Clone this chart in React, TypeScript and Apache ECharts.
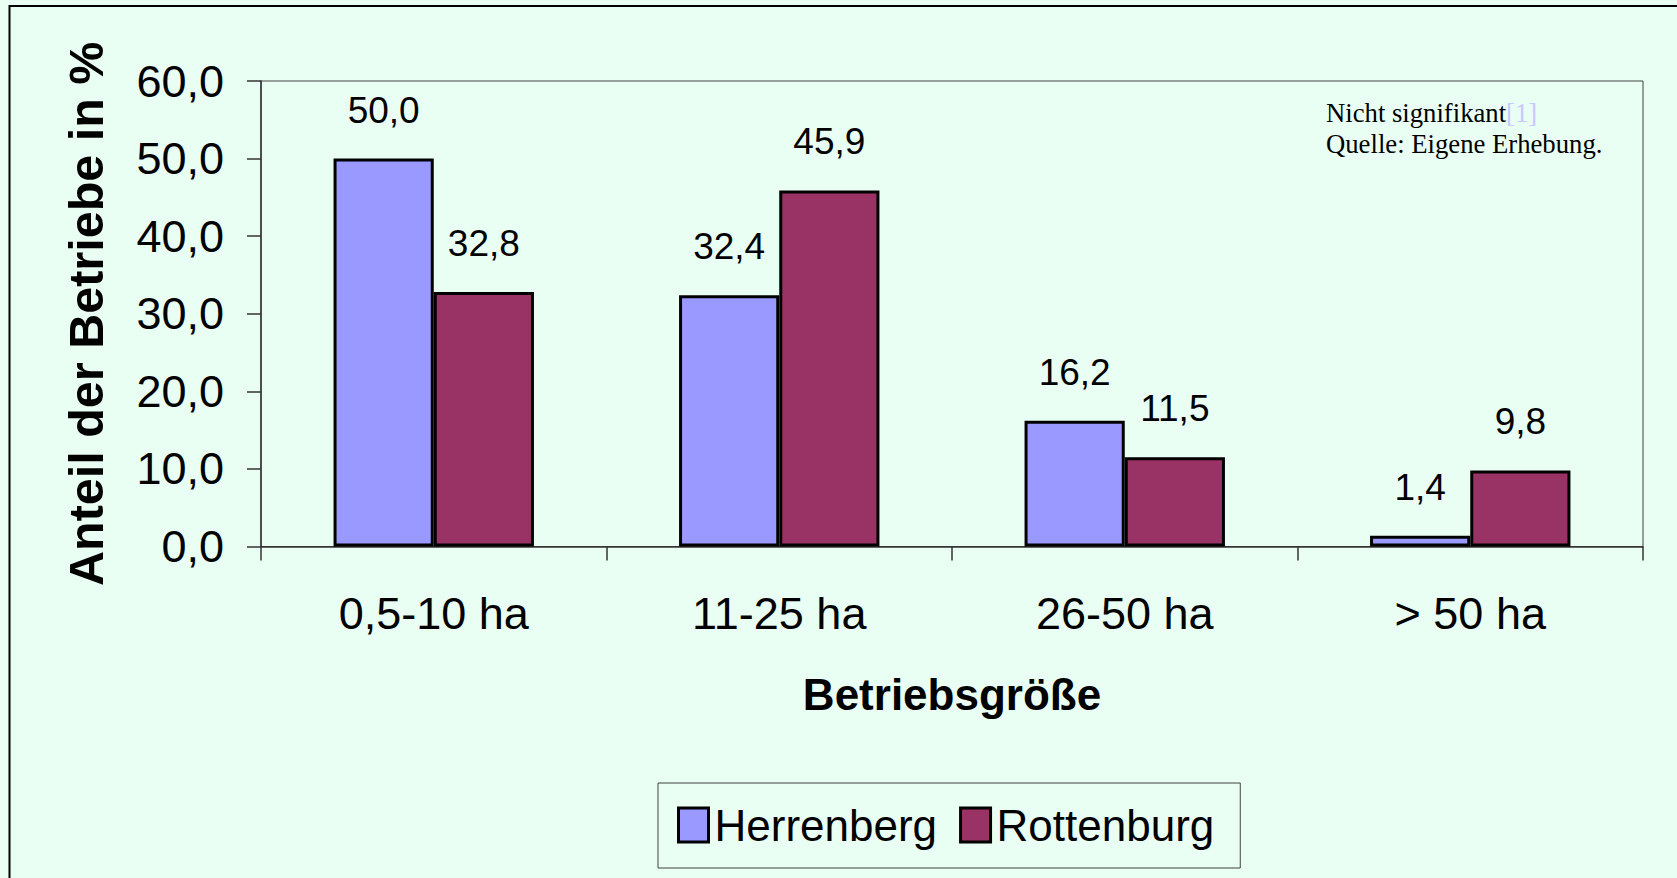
import React, { useEffect, useRef } from 'react';
import * as echarts from 'echarts';

const categories = ['0,5-10 ha', '11-25 ha', '26-50 ha', '> 50 ha'];
const herrenberg = [50.0, 32.4, 16.2, 1.4];
const rottenburg = [32.8, 45.9, 11.5, 9.8];
const seriesNames = ['Herrenberg', 'Rottenburg'];
const seriesColors = ['#9999FF', '#993366'];
const yMin = 0;
const yMax = 60;
const yInterval = 10;
const xTitle = 'Betriebsgröße';
const yTitle = 'Anteil der Betriebe in %';
const noteLine1 = 'Nicht signifikant';
const noteRef = '[1]';
const noteLine2 = 'Quelle: Eigene Erhebung.';

const fmt = (v: number) => v.toFixed(1).replace('.', ',');
const SANS = '"Liberation Sans", Arial, sans-serif';
const SERIF = '"Liberation Serif", "Times New Roman", serif';
const BG = '#EAFFF3';

export default function App() {
  const ref = useRef<HTMLDivElement>(null);
  useEffect(() => {
    if (!ref.current) return;
    const chart = echarts.init(ref.current, undefined, { renderer: 'svg' });
    const mkSeries = (name: string, data: number[], color: string) => ({
      name,
      type: 'bar',
      data,
      barGap: '0%',
      barCategoryGap: '42%',
      itemStyle: { color, borderColor: '#000', borderWidth: 3 },
      label: {
        show: true,
        position: 'top',
        distance: 30,
        formatter: (p: any) => fmt(p.value),
        color: '#000',
        fontFamily: SANS,
        fontSize: 37,
      },
    });
    chart.setOption({
      animation: false,
      backgroundColor: BG,
      grid: {
        left: 261,
        top: 81,
        width: 1382,
        height: 465.5,
        show: true,
        borderColor: '#404040',
        borderWidth: 1,
        backgroundColor: BG,
      },
      legend: {
        data: seriesNames,
        left: 658,
        top: 783,
        orient: 'horizontal',
        padding: [20, 26, 21, 19],
        itemGap: 22,
        itemWidth: 30,
        itemHeight: 34,
        icon: 'rect',
        borderColor: '#404040',
        borderWidth: 1,
        itemStyle: { borderColor: '#000', borderWidth: 3 },
        textStyle: {
          fontFamily: SANS,
          fontSize: 44,
          color: '#000',
          padding: [0, 0, 0, 1],
        },
      },
      xAxis: {
        type: 'category',
        data: categories,
        name: xTitle,
        nameLocation: 'middle',
        nameGap: 126,
        nameTextStyle: { fontFamily: SANS, fontSize: 44, fontWeight: 'bold', color: '#000' },
        axisLine: { lineStyle: { color: '#333', width: 1.5 } },
        axisTick: { show: true, length: 14, inside: false, alignWithLabel: false, lineStyle: { color: '#333', width: 1.5 } },
        axisLabel: { fontFamily: SANS, fontSize: 45, color: '#000', margin: 44 },
        splitLine: { show: false },
      },
      yAxis: {
        type: 'value',
        min: yMin,
        max: yMax,
        interval: yInterval,
        name: yTitle,
        nameLocation: 'middle',
        nameGap: 151,
        nameRotate: 90,
        nameTextStyle: { fontFamily: SANS, fontSize: 48.5, fontWeight: 'bold', color: '#000' },
        axisLine: { show: true, lineStyle: { color: '#333', width: 1.5 } },
        axisTick: { show: true, length: 14, inside: false, lineStyle: { color: '#333', width: 1.5 } },
        axisLabel: { fontFamily: SANS, fontSize: 45, color: '#000', margin: 37, formatter: (v: number) => fmt(v) },
        splitLine: { show: false },
      },
      series: [
        mkSeries(seriesNames[0], herrenberg, seriesColors[0]),
        mkSeries(seriesNames[1], rottenburg, seriesColors[1]),
      ],
      graphic: [
        {
          type: 'rect',
          shape: { x: 9.5, y: 6, width: 3000, height: 3000 },
          style: { fill: 'none', stroke: '#000', lineWidth: 2 },
          silent: true,
          z: 100,
        },
        {
          type: 'text',
          x: 1326,
          y: 97,
          style: {
            text: `${noteLine1}{r|${noteRef}}\n${noteLine2}`,
            fontFamily: SERIF,
            fontSize: 26.7,
            lineHeight: 31,
            fill: '#000',
            rich: { r: { fontFamily: SERIF, fontSize: 26.7, lineHeight: 31, fill: '#C8C8FF' } },
          },
          z: 100,
        },
      ],
    });
    return () => chart.dispose();
  }, []);
  return <div ref={ref} style={{ position: 'fixed', left: 0, top: 0, width: 1677, height: 878 }} />;
}
